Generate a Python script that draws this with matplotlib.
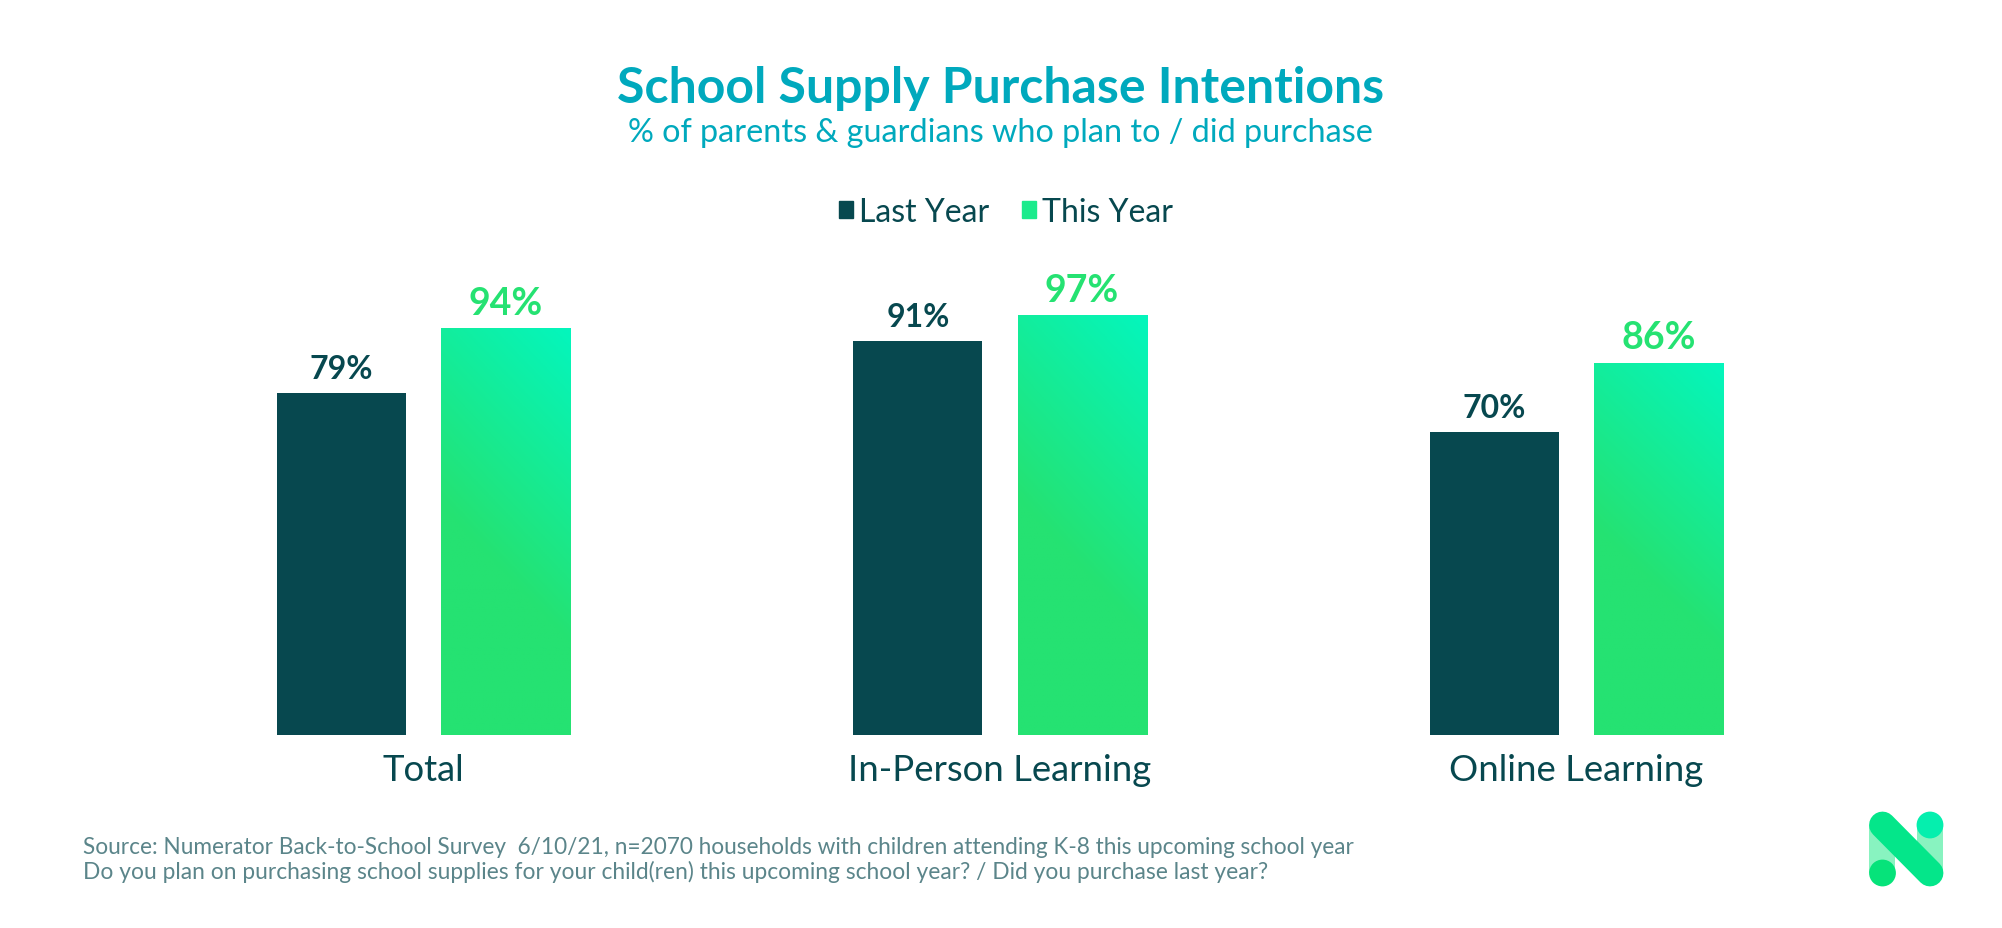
import numpy as np
import matplotlib
matplotlib.use('Agg')
import matplotlib.pyplot as plt
from matplotlib.patches import Patch, Circle, Rectangle
from matplotlib.colors import LinearSegmentedColormap

# Datos
categories = ['Total', 'In-Person Learning', 'Online Learning']
last_year = [79, 91, 70]
this_year = [94, 97, 86]
series_names = ['Last Year', 'This Year']

TEAL = '#00A9BD'
DARK = '#07484F'
GREEN = '#25E272'
W, H = 2002, 929

plt.rcParams['font.family'] = ['Lato', 'DejaVu Sans']

fig = plt.figure(figsize=(W / 100, H / 100), dpi=100, facecolor='white')
# eje principal: y=0 en el pixel 735, 4.32 px por punto porcentual
ax = fig.add_axes([135.5 / W, (H - 735.5) / H, 1729 / W, 432 / H])
ax.set_xlim(-0.5, 2.5)
ax.set_ylim(0, 100)
ax.patch.set_alpha(0)

x = np.arange(len(categories))
offset = 0.1424
width = 0.224

ax.bar(x - offset, last_year, width, color=DARK)
bars = ax.bar(x + offset, this_year, width, color=GREEN)

# Degradado diagonal de las barras verdes
cmap = LinearSegmentedColormap.from_list('g', [GREEN, '#04F6BD'])
for bar in bars:
    gx, gy = np.meshgrid(np.linspace(0, 1, 60), np.linspace(0, 1, 200))
    grad = np.clip((0.75 * gy + 0.25 * gx - 0.42) / 0.58, 0, 1)
    x0, w, h = bar.get_x(), bar.get_width(), bar.get_height()
    im = ax.imshow(grad, origin='lower', extent=[x0, x0 + w, 0, h], aspect='auto',
                   cmap=cmap, vmin=0, vmax=1, zorder=3)
    im.set_clip_path(bar)
ax.set_xlim(-0.5, 2.5)
ax.set_ylim(0, 100)

# Etiquetas de valor
for i in x:
    ax.annotate(f'{last_year[i]}%', (i - offset, last_year[i]), xytext=(0, 11),
                textcoords='offset points', ha='center', va='baseline',
                fontsize=23, fontweight='bold', color=DARK)
    ax.annotate(f'{this_year[i]}%', (i + offset, this_year[i]), xytext=(0, 10.5),
                textcoords='offset points', ha='center', va='baseline',
                fontsize=27, fontweight='bold', color=GREEN)

ax.set_xticks(x)
ax.set_xticklabels(categories, fontsize=26.3, color=DARK)
ax.tick_params(axis='x', length=0, pad=13)
ax.set_yticks([])
for s in ax.spines.values():
    s.set_visible(False)

# Titulos
fig.text(1000.5 / W, 1 - 103.5 / H, 'School Supply Purchase Intentions', ha='center', va='baseline',
         fontsize=36, fontweight='bold', color=TEAL)
fig.text(1000 / W, 1 - 141.5 / H, '% of parents & guardians who plan to / did purchase', ha='center',
         va='baseline', fontsize=23.3, color=TEAL)

# Leyenda
handles = [Patch(color=DARK, label=series_names[0]), Patch(color='#1BEB8C', label=series_names[1])]
fig.legend(handles=handles, loc='center', bbox_to_anchor=(1006 / W, 1 - 213 / H), ncol=2, frameon=False,
           fontsize=23, labelcolor=DARK, handlelength=0.45, handleheight=0.45,
           handletextpad=0.2, columnspacing=1.0)

# Notas
fig.text(83 / W, 1 - 854 / H,
         'Source: Numerator Back-to-School Survey  6/10/21, n=2070 households with children attending K-8 this upcoming school year',
         fontsize=16.3, color='#5B858A', va='baseline')
fig.text(83 / W, 1 - 879 / H,
         'Do you plan on purchasing school supplies for your child(ren) this upcoming school year? / Did you purchase last year?',
         fontsize=16.4, color='#5B858A', va='baseline')

# Logo en coordenadas de pixel
lg = fig.add_axes([0, 0, 1, 1])
lg.set_xlim(0, W)
lg.set_ylim(H, 0)
lg.axis('off')
lg.add_patch(Rectangle((1869, 826), 26, 48, color='#88F3C0', lw=0))
lg.add_patch(Rectangle((1917, 826), 26, 48, color='#88F3C0', lw=0))
lg.add_patch(Circle((1882.5, 874), 13.4, color='#06E37A', lw=0))
lg.add_patch(Circle((1930, 826), 13.4, color='#05EFAE', lw=0))
lg.plot([1882.5, 1930], [826, 874], color='#04E68A', lw=19.3, solid_capstyle='round')

fig.savefig('out.png', dpi=100)
